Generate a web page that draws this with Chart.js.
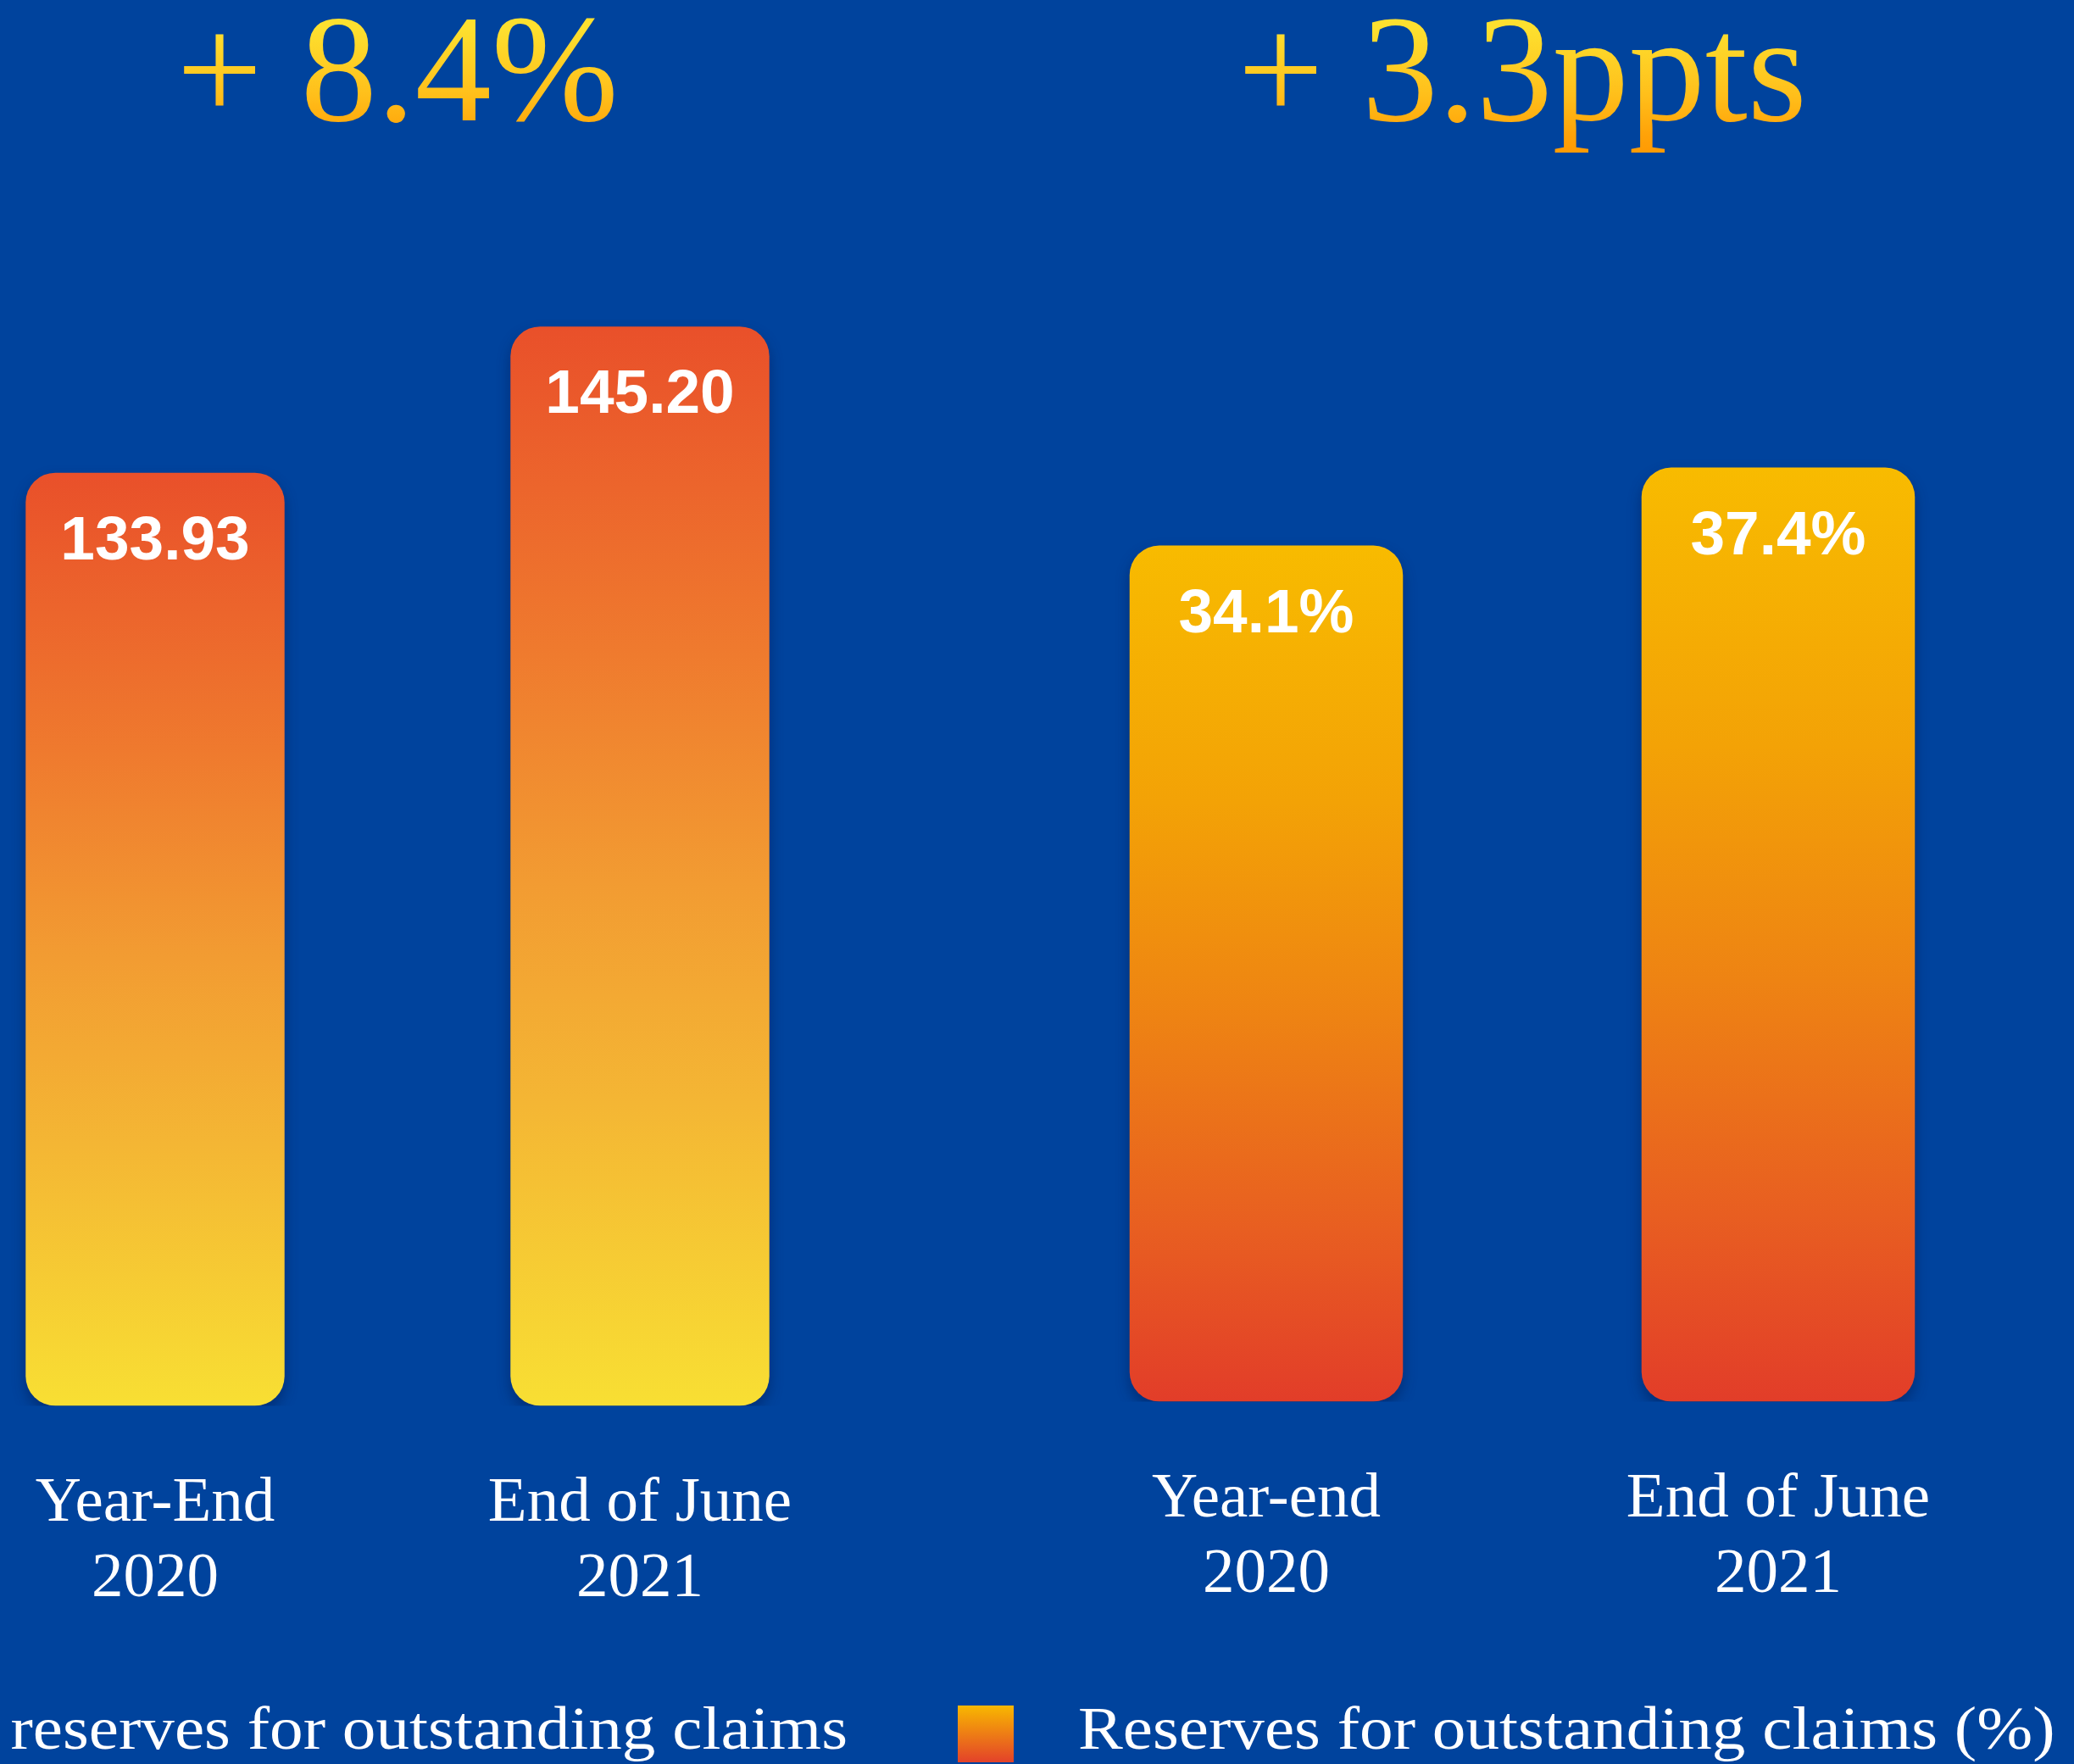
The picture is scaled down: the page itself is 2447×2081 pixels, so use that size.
<!DOCTYPE html>
<html>
<head>
<meta charset="utf-8">
<script src="https://cdn.jsdelivr.net/npm/chart.js@4.4.1/dist/chart.umd.min.js"></script>
<style>
  html, body { margin: 0; padding: 0; background: #00439d; width: 2447px; height: 2081px; overflow: hidden; }
  canvas { position: absolute; top: 0; }
  #amountChart { left: -103px; }
  #ratioChart { left: 1100px; }
</style>
</head>
<body>
<canvas id="amountChart" width="1327" height="2081"></canvas>
<canvas id="ratioChart" width="1347" height="2081"></canvas>
<script>
// ── data ────────────────────────────────────────────
const amountLabels = [['Year-End', '2020'], ['End of June', '2021']];
const amountValues = [133.93, 145.20];
const amountChange = '+ 8.4%';
const amountLegend = 'reserves for outstanding claims';

const ratioLabels = [['Year-end', '2020'], ['End of June', '2021']];
const ratioValues = [34.1, 37.4];
const ratioChange = '+ 3.3ppts';
const ratioLegend = 'Reserves for outstanding claims (%)';

// ── colours ─────────────────────────────────────────
const amountStops = [[0, '#e9502a'], [0.3, '#ef7a2e'], [0.52, '#f29c32'], [0.72, '#f4b634'], [1, '#f8df33']];
const ratioStops = [[0, '#f8bb00'], [0.3, '#f3a206'], [0.55, '#ee8313'], [0.8, '#e85e21'], [1, '#e23d29']];

const SERIF = "'Liberation Serif', 'DejaVu Serif', serif";
const SANS = "'Liberation Sans', Arial, sans-serif";

function barGradient(c, stops) {
    const chart = c.chart;
    const area = chart.chartArea;
    if (!area || c.type !== 'data') return stops[0][1];
    const top = chart.scales.y.getPixelForValue(c.raw);
    const g = chart.ctx.createLinearGradient(0, top, 0, area.bottom);
    stops.forEach(([p, col]) => g.addColorStop(p, col));
    return g;
}

// title text is drawn translated to its middle line, so the gradient is relative to it
function headerGradient(canvas) {
    const g = canvas.getContext('2d').createLinearGradient(0, -62, 0, 100);
    g.addColorStop(0, '#fde02f');
    g.addColorStop(0.5, '#ffbe1a');
    g.addColorStop(0.78, '#ffa208');
    g.addColorStop(1, '#ff9500');
    return g;
}

// shadow under bars + value text on top of each bar
const barDecor = {
    id: 'barDecor',
    beforeDatasetsDraw(chart) {
        const ctx = chart.ctx;
        ctx.save();
        ctx.shadowColor = 'rgba(0, 20, 70, 0.45)';
        ctx.shadowBlur = 16;
        ctx.shadowOffsetY = 8;
    },
    afterDatasetsDraw(chart, args, opts) {
        const ctx = chart.ctx;
        ctx.restore();
        ctx.save();
        ctx.fillStyle = '#ffffff';
        ctx.font = 'bold 73px ' + SANS;
        ctx.textAlign = 'center';
        ctx.textBaseline = 'middle';
        chart.getDatasetMeta(0).data.forEach((bar, i) => {
            const v = chart.data.datasets[0].data[i];
            ctx.fillText(opts.format(v), bar.x, bar.y + 82);
        });
        ctx.restore();
    }
};

// bottom legend line
const bottomLegend = {
    id: 'bottomLegend',
    afterDraw(chart, args, opts) {
        const ctx = chart.ctx;
        ctx.save();
        if (opts.swatch) {
            const g = ctx.createLinearGradient(0, 2012, 0, 2079);
            g.addColorStop(0, '#f8b800');
            g.addColorStop(1, '#e3422a');
            ctx.fillStyle = g;
            ctx.fillRect(opts.swatch, 2012, 66, 67);
        }
        ctx.fillStyle = '#ffffff';
        ctx.font = '72px ' + SERIF;
        ctx.textAlign = opts.align;
        ctx.textBaseline = 'alphabetic';
        ctx.translate(opts.x, 2063);
        ctx.scale(1.1, 1);
        ctx.fillText(opts.text, 0, 0);
        ctx.restore();
    }
};

function makeChart(canvas, labels, values, stops, yMin, yMax, pad, title, fmt, legendOpts) {
    return new Chart(canvas, {
        type: 'bar',
        data: {
            labels,
            datasets: [{
                data: values,
                base: yMin,
                backgroundColor: (c) => barGradient(c, stops),
                borderRadius: 35,
                borderSkipped: false,
                barPercentage: 0.534,
                categoryPercentage: 1,
            }],
        },
        options: {
            responsive: false,
            animation: false,
            devicePixelRatio: 1,
            layout: { padding: pad },
            plugins: {
                legend: { display: false },
                tooltip: { enabled: false },
                title: {
                    display: true,
                    text: title,
                    color: headerGradient(canvas),
                    fullSize: false,
                    font: { family: SERIF, size: 180, weight: 'normal', lineHeight: 1 },
                    padding: { top: 5, bottom: 15 },
                },
                barDecor: { format: fmt },
                bottomLegend: legendOpts,
            },
            scales: {
                x: {
                    grid: { display: false, drawTicks: false },
                    border: { display: false },
                    ticks: {
                        color: '#ffffff',
                        font: { family: SERIF, size: 75, lineHeight: 1.19 },
                        padding: 71,
                    },
                },
                y: { display: false, min: yMin, max: yMax },
            },
        },
        plugins: [barDecor, bottomLegend],
    });
}

makeChart(
    document.getElementById('amountChart'),
    amountLabels, amountValues, amountStops, 62, 157.3,
    { left: 0, right: 183, top: 0, bottom: 102 },
    amountChange,
    (v) => v.toFixed(2),
    { text: amountLegend, x: 1103, align: 'right', swatch: null }
);

makeChart(
    document.getElementById('ratioChart'),
    ratioLabels, ratioValues, ratioStops, -2.1, 50,
    { left: 92, right: 47, top: 0, bottom: 107 },
    ratioChange,
    (v) => v.toFixed(1) + '%',
    { text: ratioLegend, x: 172, align: 'left', swatch: 30 }
);
</script>
</body>
</html>
